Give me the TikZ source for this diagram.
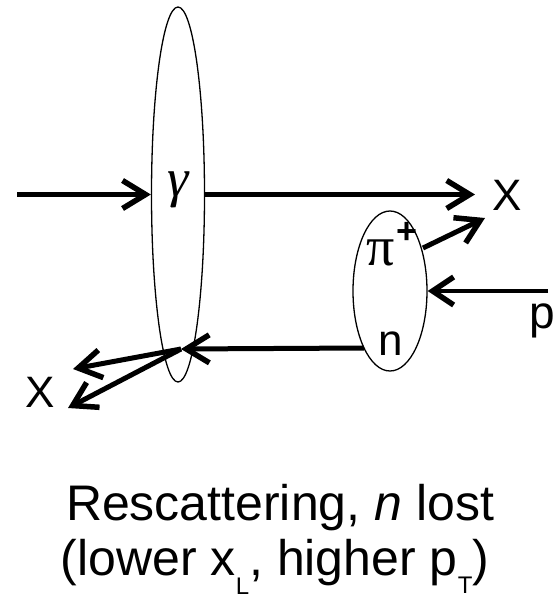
\documentclass[tikz,border=0pt]{standalone}
\usepackage{fontspec}
\setmainfont{Liberation Sans}
\newfontfamily\serifgreek{Liberation Serif}
\usetikzlibrary{arrows.meta,shapes.geometric}
\begin{document}
\begin{tikzpicture}[x=1pt,y=-1pt,
  blob/.style={draw,ellipse,line width=1.3pt,inner sep=0pt},
  thickarrow/.style={line width=5pt,-{Straight Barb[length=23pt,width=28pt,line width=5.5pt]}},
  thinarrow/.style={line width=3.3pt,-{Straight Barb[length=21pt,width=28pt,line width=5.5pt]}},
  lbl/.style={inner sep=0pt,font=\fontsize{44}{44}\selectfont},
  captext/.style={inner sep=0pt,font=\fontsize{50}{55}\selectfont}]
\useasboundingbox (0,0) rectangle (556,598);
% blobs
\node[blob,minimum width=53pt,minimum height=375pt] (big) at (178,194.5) {};
\node[blob,minimum width=74pt,minimum height=160pt] (small) at (390,291) {};
% labels
\node[inner sep=0pt,font=\fontsize{54}{54}\selectfont\serifgreek\itshape] (gamma) at (178,190) {γ};
\node[inner sep=0pt,font=\fontsize{56}{56}\selectfont\serifgreek] (pi) at (381,253) {π};
\node[inner sep=0pt,font=\fontsize{36}{36}\selectfont\bfseries] (plus) at (407,233) {+};
\node[lbl,anchor=base] (xtop) at (507,210) {X};
\node[lbl,anchor=base] (xbot) at (40,407) {X};
\node[lbl,anchor=base] (n) at (391,355) {n};
\node[lbl,anchor=base east,font=\fontsize{46}{46}\selectfont] (p) at (555,328) {p};
% coordinates
\coordinate (in) at (17,194.5);
\coordinate (xtip) at (475,194.5);
\coordinate (pistart) at (423,248);
\coordinate (pitip) at (485,218);
\coordinate (pstart) at (548,291);
\coordinate (nstart) at (364,348);
\coordinate (ntip) at (181,349);
\coordinate (xa) at (73,369);
\coordinate (xb) at (68,408);
% connectors
\draw[thickarrow] (in) -- (big.west);
\draw[thickarrow] (big.east) -- (xtip);
\draw[thickarrow] (pistart) -- (pitip);
\draw[thinarrow] (pstart) -- (small.east);
\draw[thickarrow] (nstart) -- (ntip);
\draw[thickarrow] (ntip) -- (xa);
\draw[thickarrow] (ntip) -- (xb);
% caption
\node[captext,anchor=base] (cap1) at (280,520) {Rescattering, \textit{n} lost};
\node[captext,anchor=base] (cap2) at (275,575) {(lower x\raisebox{-19pt}{\fontsize{24}{24}\selectfont L}, higher p\raisebox{-18pt}{\fontsize{24}{24}\selectfont T})};
\end{tikzpicture}
\end{document}
